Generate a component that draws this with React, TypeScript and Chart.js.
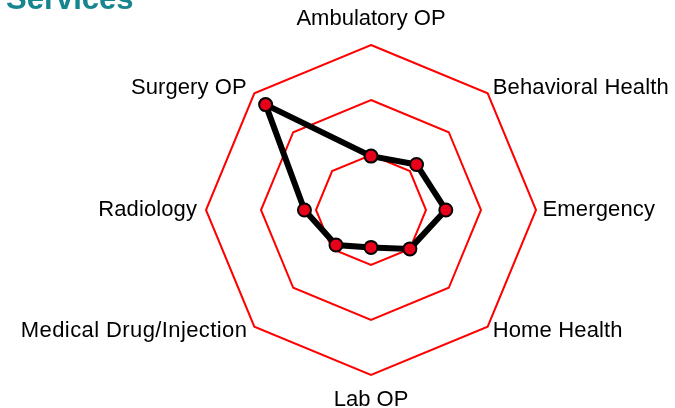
import React, { useEffect, useRef } from "react";
import { Chart, registerables } from "chart.js";

Chart.register(...registerables);

const categories = [
  "Ambulatory OP",
  "Behavioral Health",
  "Emergency",
  "Home Health",
  "Lab OP",
  "Medical Drug/Injection",
  "Radiology",
  "Surgery OP",
];
const seriesValues = [0.98, 1.17, 1.36, 1.0, 0.68, 0.9, 1.21, 2.71];
const scaleMin = 0;
const scaleMax = 3;
const scaleStep = 1;
const titleText = "Services";

// label offsets relative to outer vertex: [dx, dy, align, letterSpacing]
const labelOffsets: [number, number, CanvasTextAlign, number][] = [
  [0, -26.5, "center", 0],
  [5, -5, "left", 0.15],
  [6.5, -0.5, "left", 0.15],
  [5, 4.3, "left", 0.15],
  [0, 25, "center", 0],
  [-7, 4.3, "right", 0.4],
  [-9, 0, "right", 0.1],
  [-7.5, -5, "right", 0.1],
];

const labelPlugin = {
  id: "customLabels",
  afterDraw(chart: any) {
    const ctx = chart.ctx;
    const scale = chart.scales.r;
    ctx.save();
    ctx.fillStyle = "#000000";
    ctx.font = '22px "Liberation Sans", Arial, sans-serif';
    ctx.textBaseline = "middle";
    categories.forEach((label, i) => {
      const p = scale.getPointPosition(i, scale.drawingArea);
      const [dx, dy, align, ls] = labelOffsets[i];
      ctx.textAlign = align;
      (ctx as any).letterSpacing = ls + "px";
      ctx.fillText(label, p.x + dx, p.y + dy);
    });
    (ctx as any).letterSpacing = "0px";
    ctx.font = 'bold 31px "Liberation Sans", Arial, sans-serif';
    ctx.fillStyle = "#15858f";
    ctx.textAlign = "left";
    ctx.textBaseline = "alphabetic";
    ctx.fillText(titleText, 6, 8.5);
    ctx.restore();
  },
};

export default function App() {
  const ref = useRef<HTMLCanvasElement | null>(null);
  useEffect(() => {
    if (!ref.current) return;
    const chart = new Chart(ref.current, {
      type: "radar",
      data: {
        labels: categories,
        datasets: [
          {
            data: seriesValues,
            borderColor: "#000000",
            borderWidth: 6,
            backgroundColor: "#e8001a",
            pointBackgroundColor: "#e8001a",
            pointBorderColor: "#000000",
            pointBorderWidth: 2,
            pointRadius: 6.5,
            fill: false,
            tension: 0,
          },
        ],
      },
      options: {
        animation: false,
        responsive: false,
        maintainAspectRatio: false,
        layout: { padding: { top: 45, bottom: 33, left: 100, right: 32 } },
        plugins: {
          legend: { display: false },
          title: { display: false },
          tooltip: { enabled: false },
        },
        scales: {
          r: {
            min: scaleMin,
            max: scaleMax,
            ticks: { display: false, stepSize: scaleStep },
            grid: { color: "#ff0000", lineWidth: 2 },
            angleLines: { display: false },
            pointLabels: { display: false },
          },
        },
      },
      plugins: [labelPlugin],
    });
    return () => chart.destroy();
  }, []);
  return (
    <div style={{ position: "absolute", left: 0, top: 0, width: 675, height: 408 }}>
      <canvas ref={ref} width={675} height={408} style={{ display: "block" }} />
    </div>
  );
}
